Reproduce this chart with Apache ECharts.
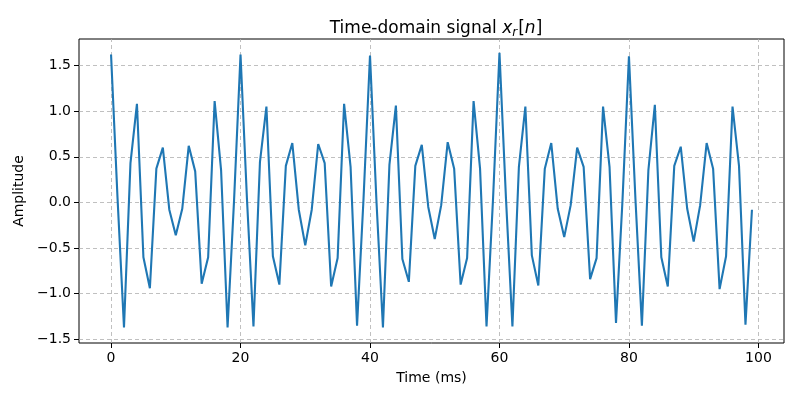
<!DOCTYPE html>
<html>
<head>
<meta charset="utf-8">
<script src="https://cdn.jsdelivr.net/npm/echarts@6/dist/echarts.min.js"></script>
<style>html,body{margin:0;padding:0;background:#fff}#c{width:800px;height:400px}</style>
</head>
<body>
<div id="c"></div>
<script>
// Amplitude samples x_r[n], n = 0..99
const amplitude = [
  1.62, 0.05, -1.37, 0.43, 1.08, -0.60, -0.94, 0.37, 0.60, -0.08,
  -0.36, -0.07, 0.62, 0.34, -0.89, -0.60, 1.11, 0.35, -1.37, 0.02,
  1.62, 0.03, -1.36, 0.44, 1.05, -0.59, -0.90, 0.40, 0.65, -0.08,
  -0.47, -0.08, 0.64, 0.43, -0.92, -0.61, 1.08, 0.39, -1.35, 0.04,
  1.61, 0.01, -1.37, 0.41, 1.06, -0.62, -0.87, 0.40, 0.63, -0.05,
  -0.40, -0.03, 0.66, 0.37, -0.90, -0.61, 1.11, 0.37, -1.36, 0.03,
  1.64, 0.05, -1.36, 0.39, 1.05, -0.58, -0.91, 0.37, 0.65, -0.07,
  -0.38, -0.03, 0.60, 0.39, -0.84, -0.61, 1.05, 0.39, -1.32, 0.02,
  1.60, 0.04, -1.35, 0.35, 1.07, -0.60, -0.92, 0.40, 0.61, -0.07,
  -0.43, -0.03, 0.65, 0.37, -0.95, -0.59, 1.05, 0.40, -1.34, -0.08
];
const xTicks = [0, 20, 40, 60, 80, 100];
const yTicks = [-1.5, -1.0, -0.5, 0.0, 0.5, 1.0, 1.5];

const seriesData = amplitude.map((v, i) => [i, v]);
const font = 'DejaVu Sans';
const gridStyle = {color: '#b0b0b0', type: [4, 3], width: 0.8};

const chart = echarts.init(document.getElementById('c'), null, {renderer: 'canvas'});
chart.setOption({
  animation: false,
  backgroundColor: '#ffffff',
  title: {
    text: '{n|Time-domain signal }{i|x}{s|r}{n|[}{i|n}{n|]}',
    left: 431, top: 13, textAlign: 'center',
    textStyle: {
      fontWeight: 'normal',
      rich: {
        n: {fontFamily: font, fontSize: 17, fontWeight: 'normal', color: '#000'},
        i: {fontFamily: font, fontSize: 17, fontWeight: 'normal', fontStyle: 'italic', color: '#000'},
        s: {fontFamily: font, fontSize: 12, fontWeight: 'normal', fontStyle: 'italic', color: '#000', padding: [9, 1, 0, 0]}
      }
    }
  },
  grid: {left: 79, right: 16, top: 39, bottom: 57, show: true, borderColor: '#000', borderWidth: 1, backgroundColor: 'transparent'},
  xAxis: {
    type: 'value', min: -4.95, max: 103.95,
    name: 'Time (ms)', nameLocation: 'middle', nameGap: 28,
    nameTextStyle: {fontFamily: font, fontSize: 14, color: '#000'},
    axisLine: {show: false, onZero: false},
    axisTick: {show: true, length: 5, customValues: xTicks, lineStyle: {color: '#000', width: 1}},
    axisLabel: {fontFamily: font, fontSize: 14, color: '#000', margin: 8, customValues: xTicks},
    splitLine: {show: false}
  },
  yAxis: {
    type: 'value', min: -1.54, max: 1.79,
    name: 'Amplitude', nameLocation: 'middle', nameGap: 52, nameRotate: 90,
    nameTextStyle: {fontFamily: font, fontSize: 14, color: '#000'},
    axisLine: {show: false, onZero: false},
    axisTick: {show: true, length: 5, customValues: yTicks, lineStyle: {color: '#000', width: 1}},
    axisLabel: {fontFamily: font, fontSize: 14, color: '#000', margin: 8, customValues: yTicks,
      formatter: v => v.toFixed(1).replace('-', '\u2212')},
    splitLine: {show: false}
  },
  series: [{
    type: 'line', data: seriesData, showSymbol: false, symbol: 'none',
    lineStyle: {color: '#1f77b4', width: 2.1}, z: 3,
    markLine: {
      silent: true, symbol: 'none', label: {show: false}, z: 1,
      lineStyle: gridStyle,
      data: xTicks.map(v => ({xAxis: v})).concat(yTicks.map(v => ({yAxis: v})))
    }
  }]
});
</script>
</body>
</html>
